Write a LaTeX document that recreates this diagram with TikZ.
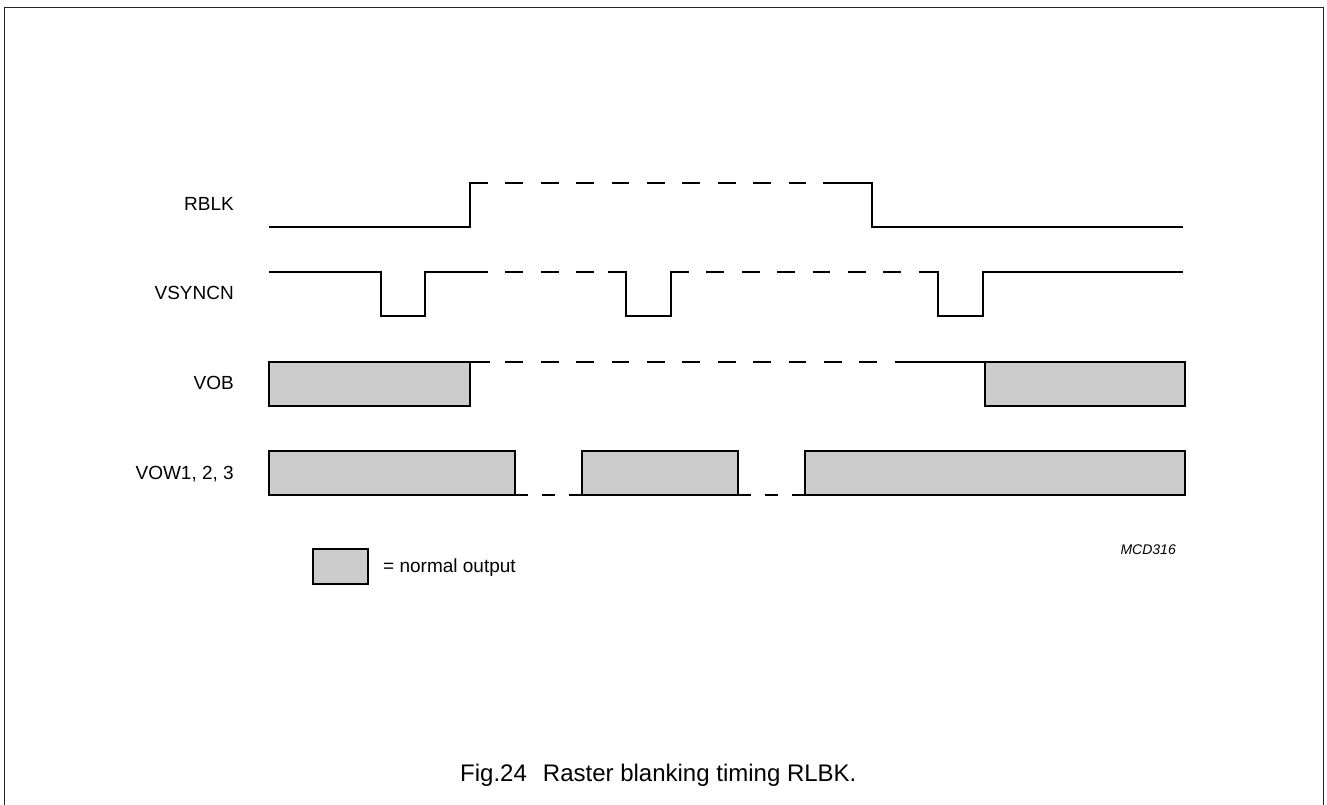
\documentclass[tikz,border=0pt]{standalone}
\usepackage{fontspec}
\setmainfont{Liberation Sans}
\begin{document}
\begin{tikzpicture}[x=1pt,y=-1pt,
  wave/.style={line width=2.4pt, line join=miter, line cap=butt},
  dsh/.style={wave, dash pattern=on 17.7pt off 17.7pt},
  dshs/.style={wave, dash pattern=on 13.4pt off 13.4pt},
  outbox/.style={wave, fill=black!20},
  lbl/.style={anchor=base east, inner sep=0pt, font=\fontsize{19}{23}\selectfont},
  frame/.style={line width=1.6pt, draw=black!85}]
\useasboundingbox (0,0) rectangle (1327,805);
% frame
\draw[frame] (4.5,805) -- (4.5,7.5) -- (1323.5,7.5) -- (1323.5,805);
% labels
\node[lbl] (lrblk) at (234,211) {RBLK};
\node[lbl] (lvsync) at (234,299) {VSYNCN};
\node[lbl] (lvob) at (234,389) {VOB};
\node[lbl] (lvow) at (234,479) {VOW1, 2, 3};
% RBLK
\draw[wave] (269,227) -- (470,227) -- (470,183) -- (488,183);
\draw[dsh] (470,183) -- (823,183);
\draw[wave] (823,183) -- (872,183) -- (872,227) -- (1183,227);
% VSYNCN
\draw[wave] (269,272) -- (381,272) -- (381,316) -- (425,316) -- (425,272) -- (488,272);
\draw[dsh] (470,272) -- (626,272);
\draw[wave] (608,272) -- (626,272) -- (626,316) -- (671,316) -- (671,272) -- (689,272);
\draw[dsh] (671,272) -- (938,272);
\draw[wave] (920,272) -- (938,272) -- (938,316) -- (983,316) -- (983,272) -- (1183,272);
% VOB
\draw[outbox] (269,362) rectangle (470,406);
\draw[wave] (470,362) -- (490,362);
\draw[dsh] (470,362) -- (904,362);
\draw[wave] (904,362) -- (985,362);
\draw[outbox] (985,362) rectangle (1185,406);
% VOW
\draw[outbox] (269,451) rectangle (515,495);
\draw[dshs] (515,495) -- (582,495);
\draw[outbox] (582,451) rectangle (738,495);
\draw[dshs] (738,495) -- (805,495);
\draw[outbox] (805,451) rectangle (1185,495);
% id
\node[anchor=base east, inner sep=0pt, font=\fontsize{14}{16}\selectfont\itshape] (mcd) at (1176,554) {MCD316};
% legend
\draw[line width=1.6pt, fill=black!20] (313,549) rectangle (368,584);
\node[anchor=base west, inner sep=0pt, font=\fontsize{19}{23}\selectfont] (legtxt) at (383,572) {= normal output};
% caption
\node[anchor=base west, inner sep=0pt, font=\fontsize{24}{28}\selectfont] (cap) at (460,781) {Fig.24\hspace{0.67em}Raster blanking timing RLBK.};
\end{tikzpicture}
\end{document}
